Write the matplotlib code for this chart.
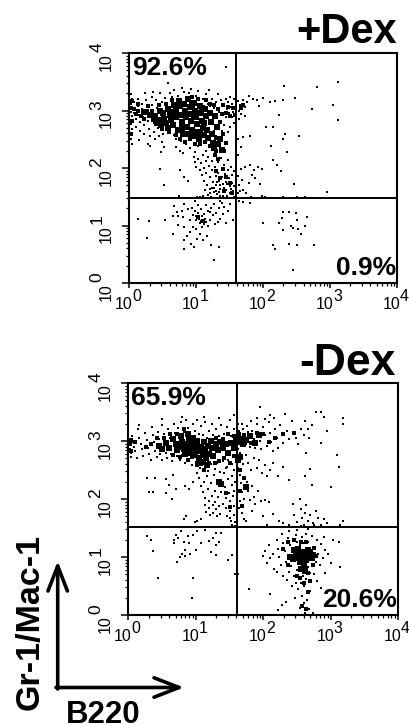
import matplotlib
matplotlib.use("Agg")
import matplotlib.pyplot as plt
from matplotlib.transforms import blended_transform_factory as btf

plt.rcParams['font.family'] = ['Liberation Sans', 'DejaVu Sans']

W, H = 410, 725
decades = [0, 1, 2, 3, 4]
minor = [1, 2, 3, 4, 5, 6, 7, 8, 9]

# All events are (log10 B220, log10 Gr-1/Mac-1).
gate_top = (1.59, 1.48)
gate_bot = (1.61, 1.51)
pct_top = ["92.6%", "0.9%"]
pct_bot = ["65.9%", "20.6%"]

top_core = [(0.25,2.98),(0.31,2.92),(0.38,2.9),(0.42,2.84),(0.45,3.0),(0.5,2.95),(0.52,2.86),(0.55,2.78),(0.58,3.03),(0.6,2.92),
(0.62,2.84),(0.65,2.74),(0.66,3.1),(0.68,2.98),(0.7,2.88),(0.72,2.66),(0.74,3.17),(0.75,3.07),(0.76,2.93),(0.78,2.8),
(0.8,2.6),(0.82,3.12),(0.83,3.0),(0.85,2.88),(0.86,2.72),(0.88,3.2),(0.9,3.06),(0.91,2.94),(0.92,2.82),(0.94,2.66),
(0.95,2.55),(0.97,3.13),(0.98,3.0),(1.0,2.88),(1.01,2.76),(1.02,2.62),(1.04,2.5),(1.05,3.08),(1.07,2.95),(1.08,2.82),
(1.1,2.7),(1.11,2.58),(1.13,3.02),(1.15,2.9),(1.16,2.66),(1.18,2.52),(1.2,2.96),(1.22,2.8),(1.24,2.6),(1.25,2.43),
(1.27,2.34),(1.28,2.9),(1.31,2.72),(1.33,2.42),(1.36,2.5),(1.38,2.32),(0.57,2.7),(0.47,2.75),(0.79,2.7),(0.87,2.6),
(0.99,2.58),(1.06,2.6),(0.69,3.03),(0.77,3.12),(0.93,3.1),(1.09,3.04),(0.63,2.97),(0.96,2.9),(1.12,2.78),(1.03,2.96)]
top_mid = [(0.06,3.02),(0.1,2.94),(0.13,3.0),(0.17,2.9),(0.2,2.98),(0.22,2.86),(0.12,3.12),(0.27,3.08),(0.33,3.0),(0.35,2.84),
(0.4,2.76),(0.44,3.1),(0.49,2.68),(0.54,3.12),(0.59,2.62),(0.64,3.18),(0.7,2.58),(0.76,2.5),(0.83,2.46),(0.9,2.5),
(0.98,2.42),(1.05,2.42),(1.13,2.46),(1.2,2.38),(1.3,2.3),(1.42,2.3),(1.44,2.44),(1.4,2.6),(1.36,2.8),(1.32,3.02),
(1.27,3.1),(1.2,3.12),(1.14,3.18),(1.02,3.2),(0.94,3.24),(1.38,2.94),(1.44,2.96),(1.5,2.9),(1.55,3.04),(1.58,2.92),
(1.48,3.06),(1.4,3.1),(1.3,2.52),(1.28,2.22),(1.33,2.16),(1.4,1.98),(1.3,1.94),(1.36,1.82),(1.44,1.84),(1.5,1.74),
(1.42,1.6),(1.54,1.56),(1.02,1.14),(1.1,1.08),(1.66,3.04),(1.7,3.1),(0.03,2.82),(0.04,3.16),(0.02,2.6),(0.02,3.04)]
top_ul = [(0.02,3.28),(0.03,3.2),(0.02,3.12),(0.04,3.06),(0.02,2.98),(0.03,2.9),(0.05,2.84),(0.02,2.76),(0.04,2.68),(0.03,2.58),
(0.02,2.5),(0.03,2.42),(0.06,3.14),(0.08,3.02),(0.07,2.95),(0.09,2.86),(0.1,2.72),(0.12,3.2),(0.13,3.08),(0.14,2.93),
(0.15,2.8),(0.16,2.65),(0.18,3.12),(0.19,3.03),(0.2,2.88),(0.21,2.74),(0.22,2.6),(0.24,3.18),(0.26,3.06),(0.27,2.82),
(0.29,2.68),(0.3,2.55),(0.33,3.24),(0.34,3.1),(0.36,2.78),(0.37,2.62),(0.4,3.18),(0.41,3.05),(0.43,2.7),(0.44,2.56),
(0.46,3.3),(0.48,3.14),(0.5,2.6),(0.53,3.22),(0.56,3.1),(0.59,2.62),(0.61,3.3),(0.64,3.24),(0.67,2.58),(0.7,2.5),
(0.73,3.26),(0.77,2.47),(0.81,3.32),(0.84,2.42),(0.89,3.3),(0.92,3.38),(0.96,2.44),(1.0,3.26),(1.03,3.34),(1.06,2.4),
(1.1,3.2),(1.14,3.28),(1.17,3.12),(1.19,3.36),(1.21,3.08),(1.23,3.2),(1.26,3.04),(1.27,2.64),(1.29,3.14),(1.3,2.56),
(1.32,3.28),(1.34,2.98),(1.35,2.82),(1.37,3.18),(1.39,2.64),(1.4,2.94),(1.41,3.08),(1.42,2.74),(1.43,2.46),(1.44,3.2),
(1.45,3.75),(1.45,2.88),(1.46,3.02),(1.47,2.62),(1.48,3.14),(1.49,2.96),(1.5,2.72),(1.51,3.24),(1.52,3.06),(1.53,2.88),
(1.54,3.12),(1.55,2.98),(1.56,3.2),(1.57,2.78),(0.58,3.48),(0.47,2.28),(0.52,2.36),(0.38,2.5),(0.28,2.42),(0.48,2.46),
(0.69,2.36),(0.75,2.3),(0.8,2.26),(0.9,2.34),(0.98,2.28),(1.02,2.38),(1.14,2.3),(0.23,3.3),(0.35,3.32),(0.66,3.36),
(0.46,1.98),(0.51,1.7),(0.76,1.96),(0.82,1.85),(0.74,1.52),(0.88,1.78),(0.3,2.38),(0.14,2.48),(0.78,3.4)]
top_tail = [(0.96,2.2),(0.98,2.1),(1.0,2.02),(1.03,2.16),(1.05,1.96),(1.07,2.08),(1.08,1.88),(1.1,2.22),(1.11,2.0),(1.12,1.78),
(1.13,1.62),(1.14,2.12),(1.15,1.92),(1.16,1.7),(1.17,1.53),(1.18,2.2),(1.19,2.04),(1.2,1.84),(1.21,1.64),(1.22,1.5),
(1.23,2.12),(1.24,1.96),(1.25,1.76),(1.26,1.58),(1.27,2.24),(1.28,2.02),(1.29,1.86),(1.3,1.7),(1.31,1.54),(1.32,2.1),
(1.33,1.92),(1.34,1.78),(1.35,1.63),(1.36,1.52),(1.37,2.18),(1.38,2.0),(1.39,1.84),(1.4,1.72),(1.41,1.58),(1.42,2.06),
(1.43,1.9),(1.44,1.76),(1.45,1.62),(1.46,1.51),(1.47,2.14),(1.48,1.96),(1.49,1.82),(1.5,1.68),(1.51,1.56),(1.52,2.02),
(1.53,1.88),(1.54,1.74),(1.55,1.6),(1.56,1.5),(1.57,1.94),(1.57,1.68),(1.27,1.66),(1.31,1.76),(1.36,1.7),(1.24,1.66),
(1.34,1.58),(1.42,1.66),(1.4,1.52),(1.3,1.6),(1.2,1.56),(1.46,1.72),(1.52,1.64),(1.1,1.52),(1.01,1.49),(1.05,1.49)]
top_ur = [(3.12,3.49),(2.8,3.41),(2.31,3.42),(2.48,3.22),(2.73,3.03),(3.04,3.09),(3.12,2.83),(1.99,3.22),(2.1,3.14),(2.17,3.16),
(2.29,3.18),(2.24,2.93),(2.15,2.72),(2.04,2.71),(2.32,2.6),(2.29,2.5),(2.54,2.56),(2.12,2.38),(2.35,2.27),(2.14,2.14),
(2.2,2.06),(2.27,1.94),(2.46,1.73),(2.96,1.59),(1.62,3.16),(1.65,3.1),(1.68,3.02),(1.7,3.18),(1.73,3.06),(1.76,3.14),
(1.66,2.94),(1.78,3.26),(1.84,3.2),(1.9,3.18),(1.93,3.08),(1.64,2.86),(1.72,2.9),(1.63,3.0),(1.69,2.54),(1.62,2.5),
(1.8,2.56),(1.66,2.36),(1.62,2.22),(1.72,2.02),(1.66,1.98),(1.62,1.86),(1.68,1.8),(1.64,1.7),(1.7,1.62),(1.8,2.06),
(1.86,1.96),(1.92,2.02),(1.98,1.98),(1.88,1.82),(1.95,1.72),(1.83,1.88),(1.62,1.56),(1.74,1.56),(1.82,1.5),(1.98,1.52),
(2.02,1.5),(1.78,1.74),(1.65,1.6),(2.5,1.5),(2.62,1.49),(2.3,1.5)]
top_ll = [(0.13,1.12),(0.29,1.08),(0.26,0.78),(0.53,1.09),(0.66,1.34),(0.65,1.17),(0.71,1.23),(0.72,1.01),(0.65,0.85),(0.72,1.17),
(0.78,1.25),(0.82,1.38),(0.8,1.14),(0.82,0.98),(0.82,0.75),(0.82,0.6),(0.86,0.82),(0.88,1.28),(0.9,1.1),(0.9,0.88),
(0.92,0.68),(0.94,1.31),(0.95,1.18),(0.95,0.98),(0.96,0.62),(0.98,1.42),(0.98,1.25),(0.99,1.1),(1.0,1.16),(1.0,0.94),
(1.01,0.77),(1.03,1.36),(1.03,1.22),(1.04,1.12),(1.05,1.04),(1.06,0.86),(1.07,1.28),(1.07,1.08),(1.08,1.16),(1.09,0.98),
(1.1,0.74),(1.11,1.2),(1.12,1.02),(1.13,1.12),(1.14,1.36),(1.15,1.06),(1.16,0.82),(1.17,1.26),(1.18,1.0),(1.2,1.24),
(1.2,1.1),(1.22,1.3),(1.22,0.66),(1.25,1.18),(1.26,1.38),(1.28,1.02),(1.3,1.22),(1.32,1.06),(1.34,0.62),(1.34,1.3),
(1.36,1.12),(1.38,1.4),(1.4,1.2),(1.42,1.32),(1.44,1.04),(1.47,1.26),(1.5,1.38),(1.55,1.1),(1.26,0.4),(1.35,1.43)]
top_lr = [(2.29,1.24),(2.38,1.24),(2.49,1.21),(2.65,1.14),(2.5,1.09),(2.28,1.13),(2.23,1.04),(2.42,0.99),(2.45,0.96),(2.52,0.94),
(2.29,0.93),(2.57,0.86),(2.62,1.0),(1.99,1.04),(2.15,0.66),(2.18,0.6),(2.38,0.68),(2.51,0.66),(2.76,0.66),(2.45,0.23),
(1.7,1.41),(1.8,1.4),(1.63,1.43)]

bot_core = [(0.46,2.92),(0.5,2.86),(0.56,2.96),(0.6,2.88),(0.66,3.04),(0.7,2.94),(0.72,2.84),(0.76,2.9),(0.78,3.08),(0.8,2.98),
(0.82,2.86),(0.84,2.78),(0.86,2.94),(0.88,3.12),(0.9,3.04),(0.91,2.88),(0.92,2.8),(0.94,2.96),(0.96,3.06),(0.97,2.84),
(0.99,2.76),(1.0,2.92),(1.02,3.0),(1.04,2.82),(1.05,2.7),(1.06,2.62),(1.08,2.9),(1.1,2.76),(1.11,2.64),(1.12,2.98),
(1.14,2.86),(1.15,2.7),(1.16,2.58),(1.18,2.92),(1.2,2.78),(1.22,3.0),(1.24,2.88),(1.26,2.74),(1.3,2.94),(1.33,2.84),
(1.36,2.98),(1.4,2.88),(1.44,2.94),(1.48,2.8),(1.52,2.96),(1.56,2.88),(1.6,3.06),(1.63,2.98),(1.66,3.04),(1.7,2.95),
(1.75,3.02),(1.8,3.08),(1.88,2.96),(1.94,3.1),(1.66,2.72),(1.62,2.68),(1.34,2.3),(1.38,2.26),(1.74,2.2),
(2.4,1.0),(2.44,0.96),(2.48,1.06),(2.5,0.98),(2.52,1.14),(2.54,1.02),(2.55,0.92),(2.57,1.08),(2.58,0.96),(2.6,0.86),
(2.62,1.04),(2.64,0.94),(2.66,1.12),(2.68,1.0),(2.7,1.08),(2.72,0.98),(2.56,0.8),(2.62,0.76),(2.46,1.12),(2.74,1.04)]
bot_mid = [(0.1,2.98),(0.26,2.9),(0.34,2.94),(0.42,3.06),(0.52,3.06),(0.62,3.12),(0.72,3.12),(0.82,3.2),(0.66,2.76),(0.76,2.72),
(0.88,2.68),(0.94,2.72),(1.02,2.58),(1.12,2.5),(1.2,2.62),(1.28,2.62),(1.34,2.66),(1.42,2.7),(1.5,2.62),(1.56,2.74),
(1.3,3.06),(1.4,3.04),(1.48,3.12),(1.56,3.08),(1.58,2.96),(1.64,3.12),(1.72,3.1),(1.82,2.96),(1.9,3.14),(2.0,3.12),
(2.08,2.98),(2.18,3.06),(2.3,3.12),(2.46,3.14),(1.66,2.5),(1.72,2.36),(1.66,2.14),(1.68,1.88),(1.44,2.1),(1.5,1.86),
(2.36,0.86),(2.3,1.14),(2.36,1.26),(2.46,1.3),(2.56,1.26),(2.64,1.26),(2.76,1.16),(2.78,1.02),(2.74,0.86),(2.66,0.72),
(2.54,0.64),(2.6,0.56),(2.66,0.4),(2.58,0.16),(2.64,0.1),(2.5,0.68),(2.7,0.58),(0.02,2.94),(0.03,3.02),(0.03,2.82)]
bot_ul = [(0.02,3.02),(0.03,2.94),(0.02,2.86),(0.04,2.8),(0.03,2.72),(0.05,3.08),(0.06,2.98),(0.08,2.9),(0.1,2.82),(0.12,2.7),
(0.14,3.2),(0.16,3.06),(0.18,2.94),(0.2,2.86),(0.22,2.74),(0.25,3.14),(0.27,3.02),(0.29,2.88),(0.31,2.78),(0.33,2.68),
(0.35,3.24),(0.37,3.1),(0.38,2.98),(0.4,2.82),(0.42,2.72),(0.44,3.16),(0.45,3.04),(0.47,2.78),(0.49,2.68),(0.5,3.28),
(0.52,3.12),(0.54,3.02),(0.55,2.8),(0.57,2.7),(0.59,3.2),(0.61,3.06),(0.63,2.78),(0.65,2.66),(0.67,3.3),(0.69,3.14),
(0.72,2.74),(0.74,3.22),(0.76,2.68),(0.78,3.32),(0.8,2.76),(0.82,3.16),(0.84,2.62),(0.86,3.36),(0.88,3.22),(0.9,2.68),
(0.92,3.14),(0.94,2.58),(0.96,3.3),(0.98,3.18),(1.0,2.64),(1.02,3.36),(1.04,3.12),(1.06,2.54),(1.08,3.26),(1.1,3.1),
(1.12,2.5),(1.14,3.32),(1.16,3.06),(1.18,2.48),(1.2,3.18),(1.22,2.6),(1.24,3.3),(1.26,3.1),(1.28,2.52),(1.3,3.2),
(1.32,2.62),(1.34,3.08),(1.36,2.46),(1.38,3.28),(1.4,2.66),(1.42,3.12),(1.44,2.54),(1.46,3.24),(1.48,2.68),(1.5,3.36),
(1.52,3.08),(1.54,2.6),(1.56,3.2),(1.58,2.72),(1.56,3.44),(1.35,3.4),(1.12,3.42),(0.8,3.42),(0.5,3.38),(0.16,3.28),
(0.28,2.36),(0.4,2.36),(0.56,2.34),(0.6,2.24),(0.66,2.42),(0.3,2.12),(0.36,2.12),(0.56,2.1),(0.64,2.0),(0.7,2.18),
(0.84,2.22),(0.9,2.18),(0.96,2.3),(1.02,2.44),(0.82,1.66),(0.86,1.7),(0.98,1.6),(1.02,1.62),(1.08,1.66),(1.32,1.7)]
bot_tail = [(1.05,2.36),(1.08,2.22),(1.1,2.12),(1.12,2.3),(1.13,2.02),(1.14,1.9),(1.15,1.78),(1.17,2.4),(1.18,2.18),(1.19,1.96),
(1.2,1.84),(1.21,1.72),(1.23,2.28),(1.24,2.06),(1.25,1.9),(1.26,1.76),(1.27,2.42),(1.28,2.14),(1.29,1.94),(1.3,1.82),
(1.32,2.32),(1.33,2.04),(1.35,1.88),(1.36,1.74),(1.38,2.12),(1.4,1.92),(1.42,2.44),(1.43,2.2),(1.44,2.02),(1.45,1.84),
(1.46,1.7),(1.48,2.34),(1.49,2.1),(1.5,1.96),(1.51,1.8),(1.52,1.62),(1.53,2.4),(1.54,2.24),(1.55,2.06),(1.56,1.88),
(1.57,1.72),(1.58,1.6),(1.56,2.5),(1.58,2.3),(1.57,2.14),(1.54,1.56),(1.58,1.54),(1.5,1.68),(1.46,2.56),(1.52,2.62)]
bot_ur = [(1.62,3.3),(1.64,3.18),(1.66,3.12),(1.68,3.3),(1.7,3.2),(1.72,3.1),(1.74,2.94),(1.76,3.26),(1.78,3.16),(1.8,2.9),
(1.82,3.34),(1.84,3.18),(1.86,3.04),(1.88,2.88),(1.9,3.3),(1.92,3.16),(1.95,3.0),(1.97,2.86),(2.0,3.24),(2.02,3.1),
(2.05,2.92),(2.08,3.32),(2.1,3.14),(2.12,2.98),(2.14,2.82),(2.16,3.4),(2.18,3.2),(2.2,3.06),(2.22,2.88),(2.25,3.28),
(2.28,3.1),(2.3,2.96),(2.32,3.46),(2.35,3.18),(2.38,3.04),(2.42,3.34),(2.45,3.16),(2.48,3.06),(2.52,2.94),(2.56,3.2),
(2.6,3.1),(2.62,3.34),(2.66,3.2),(2.64,2.8),(2.68,3.06),(2.72,3.28),(2.78,3.5),(2.85,3.5),(2.9,3.42),(2.95,3.18),
(3.18,3.4),(3.18,3.3),(2.85,2.96),(3.1,2.76),(3.12,2.56),(3.0,2.2),(1.95,3.58),(2.1,3.45),(2.02,3.38),(1.9,3.4),
(1.63,2.86),(1.66,2.8),(1.7,2.6),(1.74,2.76),(1.78,2.62),(1.82,2.5),(1.86,2.7),(1.9,2.54),(1.94,2.68),(1.98,2.44),
(2.02,2.58),(2.06,2.4),(2.1,2.5),(2.15,2.62),(2.22,2.4),(2.3,2.56),(2.38,2.32),(2.62,2.4),(2.7,2.52),(2.72,2.24),
(1.62,2.54),(1.65,2.42),(1.67,2.28),(1.69,2.12),(1.72,2.0),(1.63,2.16),(1.66,1.96),(1.64,1.84),(1.68,1.76),(1.71,1.66),
(1.76,2.3),(1.78,2.14),(1.8,1.98),(1.84,2.22),(1.86,2.04),(1.88,1.92),(1.92,2.14),(1.96,1.96),(2.02,1.98),(2.08,1.94),
(1.74,1.62),(1.84,1.8),(2.0,1.7),(2.06,1.55),(2.14,1.74),(2.24,1.62),(2.3,1.58),(2.38,1.56),(2.44,1.92),(2.46,1.72),
(2.5,1.6),(2.54,2.0),(2.56,1.82),(2.58,1.68),(2.6,1.56),(2.62,1.76),(2.64,1.9),(2.66,1.62),(2.7,1.72),(2.74,1.58),
(2.78,1.8),(2.82,1.68),(2.86,1.56),(2.9,1.66),(2.94,1.58),(3.18,1.62),(3.14,1.56),(2.76,1.56),(2.48,1.52),(2.56,1.54)]
bot_ll = [(0.28,1.36),(0.33,1.3),(0.36,1.11),(0.44,0.63),(0.95,0.63),(0.94,0.3),(0.67,1.3),(0.7,1.38),(0.68,1.24),(0.74,1.32),
(0.78,1.44),(0.82,1.26),(0.88,1.36),(0.84,1.12),(0.8,1.06),(0.76,1.0),(0.72,0.92),(0.84,1.02),(0.92,1.06),(1.0,1.12),
(0.96,1.38),(1.08,1.24),(1.14,1.46),(1.2,1.28),(1.26,1.32),(1.3,1.42),(1.3,1.2),(1.34,1.26),(1.38,1.42),(1.22,1.08),
(1.3,1.04),(1.48,0.94),(1.54,1.04),(1.58,0.7),(1.02,1.44),(0.9,1.24)]
bot_lr = [(2.0,1.02),(2.02,1.1),(2.05,0.9),(2.08,1.2),(2.1,0.98),(2.14,1.06),(2.16,0.8),(2.2,1.3),(2.2,0.74),(2.22,1.14),
(2.24,1.0),(2.26,0.86),(2.28,1.4),(2.29,0.68),(2.3,1.24),(2.32,1.1),(2.34,0.92),(2.35,0.6),(2.37,1.32),(2.38,0.74),
(2.4,1.2),(2.41,0.84),(2.42,0.5),(2.44,1.28),(2.45,0.68),(2.47,0.3),(2.48,0.56),(2.48,1.38),(2.5,0.78),(2.5,1.26),
(2.52,0.44),(2.53,0.66),(2.54,1.2),(2.55,0.12),(2.56,0.56),(2.57,1.34),(2.58,0.32),(2.59,0.68),(2.6,1.24),(2.6,0.2),
(2.61,0.5),(2.62,0.04),(2.63,1.4),(2.64,0.62),(2.65,0.26),(2.66,0.82),(2.67,1.26),(2.68,0.1),(2.69,0.72),(2.7,0.42),
(2.72,1.36),(2.72,0.84),(2.74,0.04),(2.76,1.18),(2.76,0.7),(2.78,0.92),(2.8,1.3),(2.8,0.58),(2.82,1.06),(2.84,0.86),
(2.86,1.22),(2.86,0.46),(2.88,0.98),(2.9,1.34),(2.92,1.12),(2.92,0.72),(2.96,1.06),(3.0,0.9),(3.03,1.3),(3.12,1.26),
(3.14,0.82),(1.79,0.45),(2.1,0.36),(2.22,0.08),(2.34,0.22),(2.28,0.18),(1.62,0.7),(2.66,1.48),(2.5,1.46),(2.38,1.44)]

def xy(points):
    return [10**p[0] for p in points], [10**p[1] for p in points]

def px_box(l, t, r, b):
    return [l/W, 1-b/H, (r-l)/W, (b-t)/H]

fig = plt.figure(figsize=(W/100, H/100), dpi=100, facecolor='white')

def pts(p):
    return p*0.72

def panel(box, fine, mid, coarse, gate, pct, name, name_xy, name_size):
    ax = fig.add_axes(px_box(*box))
    ax.set_xscale('log'); ax.set_yscale('log')
    ax.set_xlim(1, 1e4); ax.set_ylim(1, 1e4)
    for group in fine:
        x, y = xy(group)
        ax.scatter(x, y, s=2.6, c='black', marker='s', linewidths=0, zorder=2)
    x, y = xy(mid)
    ax.scatter(x, y, s=8, c='black', marker='s', linewidths=0, zorder=2)
    x, y = xy(coarse)
    ax.scatter(x, y, s=21, c='black', marker='s', linewidths=0, zorder=2)
    ax.axvline(10**gate[0], color='black', lw=1.4, zorder=3)
    ax.axhline(10**gate[1], color='black', lw=1.4, zorder=3)
    for s in ax.spines.values():
        s.set_linewidth(1.5)
    ax.xaxis.set_major_locator(matplotlib.ticker.LogLocator(10, numticks=6))
    ax.yaxis.set_major_locator(matplotlib.ticker.LogLocator(10, numticks=6))
    ax.xaxis.set_minor_locator(matplotlib.ticker.LogLocator(10, subs=minor[1:], numticks=6))
    ax.yaxis.set_minor_locator(matplotlib.ticker.LogLocator(10, subs=minor[1:], numticks=6))
    ax.xaxis.set_minor_formatter(matplotlib.ticker.NullFormatter())
    ax.yaxis.set_minor_formatter(matplotlib.ticker.NullFormatter())
    ax.tick_params(axis='x', which='major', length=pts(5), width=1.1)
    ax.tick_params(axis='x', which='minor', length=pts(3), width=0.9)
    ax.tick_params(axis='y', which='major', length=pts(7), width=1.1)
    ax.tick_params(axis='y', which='minor', length=pts(3.5), width=0.9)
    ax.tick_params(labelbottom=False, labelleft=False)
    tx = btf(ax.transData, ax.transAxes)
    ty = btf(ax.transAxes, ax.transData)
    for d in decades:
        v = 10**d
        ax.annotate("10", (v, 0), xycoords=tx, xytext=(pts(3.5), pts(-26)), textcoords='offset points',
                    ha='right', va='baseline', fontsize=11.5, annotation_clip=False)
        ax.annotate(str(d), (v, 0), xycoords=tx, xytext=(pts(3), pts(-18)), textcoords='offset points',
                    ha='left', va='baseline', fontsize=11.5, annotation_clip=False)
        ax.annotate("10", (0, v), xycoords=ty, xytext=(pts(-15.5), 0), textcoords='offset points',
                    ha='right', va='top', rotation=90, fontsize=11.5, annotation_clip=False)
        ax.annotate(str(d), (0, v), xycoords=ty, xytext=(pts(-25), pts(1)), textcoords='offset points',
                    ha='right', va='bottom', rotation=90, fontsize=12.5, annotation_clip=False)
    ax.text(0.008, 0.985, pct[0], transform=ax.transAxes, ha='left', va='top', fontsize=19, fontweight='bold')
    ax.text(0.995, 0.015, pct[1], transform=ax.transAxes, ha='right', va='bottom', fontsize=19, fontweight='bold')
    fig.text(name_xy[0]/W, 1-name_xy[1]/H, name, ha='right', va='baseline', fontsize=name_size, fontweight='bold')
    return ax

panel((129.5, 53, 397, 283), [top_ul, top_tail, top_ur, top_ll, top_lr], top_mid, top_core, gate_top, pct_top, "+Dex", (397, 43), 30)
panel((128.5, 383, 398, 615), [bot_ul, bot_tail, bot_ur, bot_ll, bot_lr], bot_mid, bot_core, gate_bot, pct_bot, "-Dex", (396, 375), 32)

overlay = fig.add_axes([0, 0, 1, 1], facecolor='none')
overlay.set_xlim(0, W); overlay.set_ylim(H, 0); overlay.axis('off')
arrow = dict(arrowstyle='->,head_length=0.9,head_width=0.35', lw=2.6, color='black', shrinkA=0, shrinkB=0, mutation_scale=20)
overlay.annotate("", xy=(57.7, 561), xytext=(57.7, 689), arrowprops=arrow)
overlay.annotate("", xy=(184, 687.5), xytext=(56, 687.5), arrowprops=arrow)
overlay.text(30, 710, "Gr-1/Mac-1", rotation=90, ha='center', va='bottom', fontsize=24.5, fontweight='bold')
overlay.text(66, 723, "B220", ha='left', va='baseline', fontsize=22.5, fontweight='bold')

fig.savefig("out.png", dpi=100)
